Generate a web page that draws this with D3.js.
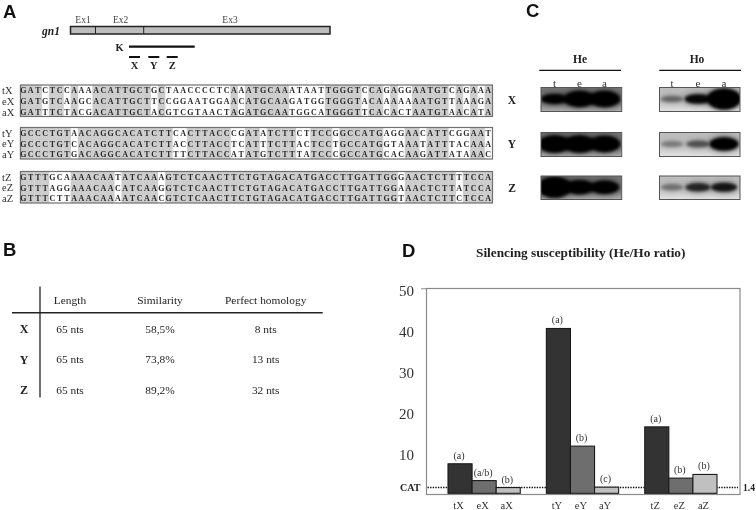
<!DOCTYPE html>
<html><head><meta charset="utf-8">
<script src="https://d3js.org/d3.v7.min.js"></script>
<style>html,body{margin:0;padding:0;background:#fff}svg{display:block;filter:blur(0.3px)}text{font-family:"Liberation Serif",serif;fill:#222}</style>
</head><body><svg id="c" width="756" height="510"></svg>
<script>
// ---- data ----
const panelLetters = ["A","B","C","D"];
const alignGroups = ["X","Y","Z"];
const alignRows = ["t","e","a"];
const seqX = ["GATCTCCAAAACATTGCTGCTAACCCCTCAAATGCAAATAATTGGGTCCAGAGGAATGTCAGAAA",
              "GATGTCAAGCACATTGCTTCCGGAATGGAACATGCAAGATGGTGGGTACAAAAAAATGTTAAAGA",
              "GATTTCTACGACATTGCTACGTCGTAACTAGATGCAATGGCATGGGTTCACACTAATGTAACATA"];
const seqY = ["GCCCTGTAACAGGCACATCTTCACTTACCCGATATCTTCTTCCGGCCATGAGGAACATTCGGAAT",
              "GCCCTGTCACAGGCACATCTTACCTTACCTCATTTCTTACTCCTGCCATGGTAAATATTTACAAA",
              "GCCCTGTGACAGGCACATCTTTTCTTACCATATGTCTTTATCCCGCCATGCACAAGATTATAAAC"];
const seqZ = ["GTTTGCAAAACAATATCAAAGTCTCAACTTCTGTAGACATGACCTTGATTGGGAACTCTTTTCCA",
              "GTTTAGGAAACAACATCAAGGTCTCAACTTCTGTAGACATGACCTTGATTGGAAACTCTTATCCA",
              "GTTTCTTAAACAAAATCAACGTCTCAACTTCTGTAGACATGACCTTGATTGGTAACTCTTCTCCA"];
const tableHead = ["Length","Similarity","Perfect homology"];
const tableLabels = ["X","Y","Z"];
const tableLength = ["65 nts","65 nts","65 nts"];
const tableSimilarity = ["58,5%","73,8%","89,2%"];
const tableHomology = ["8 nts","13 nts","32 nts"];
const gelLanes = ["t","e","a"];
const gelHeX = [1.0,1.6,1.6], gelHeY = [1.7,1.7,1.6], gelHeZ = [2.0,1.4,1.3];
const gelHoX = [0.4,0.95,2.0], gelHoY = [0.3,0.5,1.3], gelHoZ = [0.35,0.75,0.85];
const barGroups = ["X","Y","Z"];
const barKinds = ["t","e","a"];
const valuesX = [7.2,3.1,1.4], valuesY = [40.2,11.5,1.5], valuesZ = [16.2,3.7,4.6];
const lettersX = ["(a)","(a/b)","(b)"], lettersY = ["(a)","(b)","(c)"], lettersZ = ["(a)","(b)","(b)"];
const yTicks = [10,20,30,40,50];
const catValue = 1.4;

// ---- setup ----
const svg = d3.select("#c");
const defs = svg.append("defs");
const sans = '"Liberation Sans",sans-serif';
function txt(g,x,y,s,o={}){
  return g.append("text").attr("x",x).attr("y",y).attr("dy",".35em")
    .attr("text-anchor",o.a||"middle").attr("font-size",o.s||11)
    .attr("font-weight",o.b?"bold":"normal").attr("font-style",o.i?"italic":"normal")
    .style("font-family",o.f||null).style("fill",o.c||null).text(s);
}
// panel letters
const letterPos = {A:[3,12],B:[3,250],C:[526,11],D:[402,250.5]};
panelLetters.forEach(l=>txt(svg,letterPos[l][0],letterPos[l][1],l,{a:"start",s:18.5,b:1,f:sans,c:"#111"}));

// ---- A: gene model ----
const gA = svg.append("g");
gA.append("rect").attr("x",70.5).attr("y",26.5).attr("width",259.5).attr("height",7.5)
  .attr("fill","#bdbdbd").attr("stroke","#222").attr("stroke-width",1.5);
[95.5,143.7].forEach(x=>gA.append("line").attr("x1",x).attr("x2",x).attr("y1",26).attr("y2",34).attr("stroke","#222").attr("stroke-width",1));
[["Ex1",83],["Ex2",120.7],["Ex3",230]].forEach(d=>txt(gA,d[1],19.5,d[0],{s:9.5,c:"#444"}));
txt(gA,42,30.5,"gn1",{a:"start",s:11.5,b:1,i:1});
txt(gA,119.5,47,"K",{s:10.5,b:1});
gA.append("line").attr("x1",129).attr("x2",194.7).attr("y1",46.7).attr("y2",46.7).attr("stroke","#111").attr("stroke-width",2.2);
[["X",129,140],["Y",148.3,159.3],["Z",166.7,177.7]].forEach(d=>{
  gA.append("line").attr("x1",d[1]).attr("x2",d[2]).attr("y1",57).attr("y2",57).attr("stroke","#111").attr("stroke-width",2);
  txt(gA,(d[1]+d[2])/2,65,d[0],{s:10.5,b:1});
});

// ---- A: alignments ----
const seqs = {X:seqX,Y:seqY,Z:seqZ};
const boxTop = {X:85,Y:127.5,Z:171.5};
const boxH = 31.5;
const px = d3.scalePoint().domain(d3.range(seqX[0].length)).range([23.4,488.2]);
const step = px.step();
alignGroups.forEach(grp=>{
  const g = svg.append("g");
  const top = boxTop[grp], S = seqs[grp];
  g.append("rect").attr("x",20.5).attr("y",top).attr("width",472).attr("height",boxH).attr("fill","#fff");
  const cons = px.domain().filter(i=>S[0][i]===S[1][i]&&S[1][i]===S[2][i]);
  g.selectAll("rect.s").data(cons).join("rect").attr("class","s")
    .attr("x",i=>px(i)-step/2).attr("y",top).attr("width",step+0.4).attr("height",boxH).attr("fill","#cdcdcd");
  g.append("rect").attr("x",20.5).attr("y",top).attr("width",472).attr("height",boxH)
    .attr("fill","none").attr("stroke","#6f6f6f").attr("stroke-width",1.2);
  const py = d3.scalePoint().domain(alignRows).range([top+5.6,top+27]);
  S.forEach((s,r)=>{
    txt(g,2,py(alignRows[r]),alignRows[r]+grp,{a:"start",s:10.5,c:"#333"});
    g.selectAll(null).data(s.split("").map((c,i)=>({c,i}))).join("text")
      .attr("x",d=>px(d.i)).attr("y",py(alignRows[r])).attr("dy",".35em")
      .attr("text-anchor","middle").attr("font-size",8).attr("font-weight","bold")
      .style("font-family",'"Liberation Serif",serif').style("fill","#2a2a2a").text(d=>d.c);
  });
});

// ---- B: table ----
const gB = svg.append("g");
gB.append("line").attr("x1",40).attr("x2",40).attr("y1",286.5).attr("y2",397.5).attr("stroke","#222").attr("stroke-width",1.3);
gB.append("line").attr("x1",12).attr("x2",322.7).attr("y1",312.7).attr("y2",312.7).attr("stroke","#222").attr("stroke-width",1.4);
const colX = [70,160,265.7], rowY = [329,359.5,390];
tableHead.forEach((h,i)=>txt(gB,colX[i],300,h,{s:11.4}));
tableLabels.forEach((l,r)=>{
  txt(gB,24,rowY[r],l,{s:12,b:1});
  [tableLength,tableSimilarity,tableHomology].forEach((col,i)=>txt(gB,colX[i],rowY[r],col[r],{s:11.4}));
});

// ---- C: gels ----
const blur = defs.append("filter").attr("id","bl").attr("x","-40%").attr("y","-80%").attr("width","180%").attr("height","260%");
blur.append("feGaussianBlur").attr("stdDeviation",1.6);
const halo = defs.append("filter").attr("id","ha").attr("x","-50%").attr("y","-100%").attr("width","200%").attr("height","300%");
halo.append("feGaussianBlur").attr("stdDeviation",3.5);
function grad(id,a,b,c){
  const lg = defs.append("linearGradient").attr("id",id).attr("x1",0).attr("x2",0).attr("y1",0).attr("y2",1);
  lg.append("stop").attr("offset","0").attr("stop-color",a);
  lg.append("stop").attr("offset",".55").attr("stop-color",b);
  lg.append("stop").attr("offset","1").attr("stop-color",c);
}
grad("gHe","#767676","#747474","#b0b0b0");
grad("gHo","#bdbdbd","#c4c4c4","#e2e2e2");
const gelRows = [["X",87.5,24],["Y",132.5,24],["Z",176,23.5]];
const gelPanels = [
  {name:"He",box:[541,621.7],lane:[542,617],line:[539.3,621],c:580,vals:{X:gelHeX,Y:gelHeY,Z:gelHeZ},fill:"url(#gHe)"},
  {name:"Ho",box:[659.5,740],lane:[659,737],line:[659.3,741],c:697,vals:{X:gelHoX,Y:gelHoY,Z:gelHoZ},fill:"url(#gHo)"}
];
const ryS = d3.scaleLinear().domain([0,1,2]).range([2.2,5,10.5]);
const rxS = d3.scaleLinear().domain([0,2]).range([10,17]);
const opS = d3.scaleLinear().domain([0,1]).range([0,1]).clamp(true);
gelPanels.forEach((p,pi)=>{
  const g = svg.append("g");
  txt(g,p.c,58.7,p.name,{s:11.5,b:1});
  g.append("line").attr("x1",p.line[0]).attr("x2",p.line[1]).attr("y1",70.3).attr("y2",70.3).attr("stroke","#111").attr("stroke-width",1.2);
  const lx = d3.scaleBand().domain(gelLanes).range(p.lane);
  gelLanes.forEach(l=>txt(g,lx(l)+lx.bandwidth()/2,82.7,l,{s:11,c:"#333"}));
  gelRows.forEach(([row,top,h])=>{
    const id = "clip"+pi+row;
    defs.append("clipPath").attr("id",id).append("rect").attr("x",p.box[0]).attr("y",top).attr("width",p.box[1]-p.box[0]).attr("height",h);
    const gg = g.append("g").attr("clip-path",`url(#${id})`);
    gg.append("rect").attr("x",p.box[0]).attr("y",top).attr("width",p.box[1]-p.box[0]).attr("height",h).attr("fill",p.fill);
    const cy = top+h/2-0.5;
    gg.selectAll("ellipse.h").data(p.vals[row]).join("ellipse").attr("class","h")
      .attr("cx",(d,i)=>lx(gelLanes[i])+lx.bandwidth()/2).attr("cy",cy)
      .attr("rx",d=>rxS(d)+1).attr("ry",d=>ryS(d)+1)
      .attr("fill","#000").attr("opacity",d=>opS(d)*0.45).attr("filter","url(#ha)");
    gg.selectAll("ellipse.b").data(p.vals[row]).join("ellipse").attr("class","b")
      .attr("cx",(d,i)=>lx(gelLanes[i])+lx.bandwidth()/2).attr("cy",cy)
      .attr("rx",d=>rxS(d)).attr("ry",d=>ryS(d))
      .attr("fill","#000").attr("opacity",d=>opS(d)).attr("filter","url(#bl)");
    g.append("rect").attr("x",p.box[0]).attr("y",top).attr("width",p.box[1]-p.box[0]).attr("height",h)
      .attr("fill","none").attr("stroke","#555").attr("stroke-width",1);
  });
});
[["X",512,100],["Y",512,144],["Z",512,187.5]].forEach(d=>txt(svg,d[1],d[2],d[0],{s:11.5,b:1}));

// ---- D: bar chart ----
const gD = svg.append("g");
const y = d3.scaleLinear().domain([0,50]).range([493.3,288.3]);
const outer = d3.scaleBand().domain(barGroups).range([448,717]).paddingInner(26/98);
const inner = d3.scaleBand().domain(barKinds).range([0,outer.bandwidth()]);
txt(gD,580.7,252.7,"Silencing susceptibility (He/Ho ratio)",{s:13.3,b:1});
gD.append("rect").attr("x",426.5).attr("y",288.5).attr("width",313.5).attr("height",206)
  .attr("fill","#fff").attr("stroke","#8a8a8a").attr("stroke-width",1.2);
const axis = d3.axisLeft(y).tickValues(yTicks).tickSize(5).tickPadding(7).tickFormat(d3.format("d"));
const axG = gD.append("g").attr("transform","translate(426,0)").call(axis);
axG.select(".domain").remove();
axG.selectAll(".tick line").attr("stroke","#8a8a8a").attr("opacity",d=>d===50?1:0);
axG.selectAll(".tick text").attr("font-size",15).attr("dy",".5em").style("font-family",'"Liberation Serif",serif').style("fill","#333");
gD.append("line").attr("x1",427.5).attr("x2",738).attr("y1",y(catValue)).attr("y2",y(catValue))
  .attr("stroke","#111").attr("stroke-width",1.4).attr("stroke-dasharray","1.4 1.2");
const fills = {t:"#333333",e:"#6e6e6e",a:"#c0c0c0"};
const groupData = {X:[valuesX,lettersX],Y:[valuesY,lettersY],Z:[valuesZ,lettersZ]};
barGroups.forEach(grp=>{
  const [vals,lets] = groupData[grp];
  const g = gD.append("g").attr("transform",`translate(${outer(grp)},0)`);
  g.selectAll("rect").data(vals).join("rect")
    .attr("x",(d,i)=>inner(barKinds[i])).attr("width",inner.bandwidth())
    .attr("y",d=>y(d)).attr("height",d=>y(0)-y(d))
    .attr("fill",(d,i)=>fills[barKinds[i]]).attr("stroke","#1a1a1a").attr("stroke-width",1.1);
  vals.forEach((v,i)=>{
    const cx = inner(barKinds[i])+inner.bandwidth()/2;
    txt(g,cx-1,y(v)-8.5,lets[i],{s:10,c:"#333"});
    txt(g,cx-1.5,505,barKinds[i]+grp,{s:10.5,c:"#333"});
  });
});
txt(gD,400,487,"CAT",{a:"start",s:10,b:1});
txt(gD,743,487.5,"1.4",{a:"start",s:9.5,b:1});
</script></body></html>
